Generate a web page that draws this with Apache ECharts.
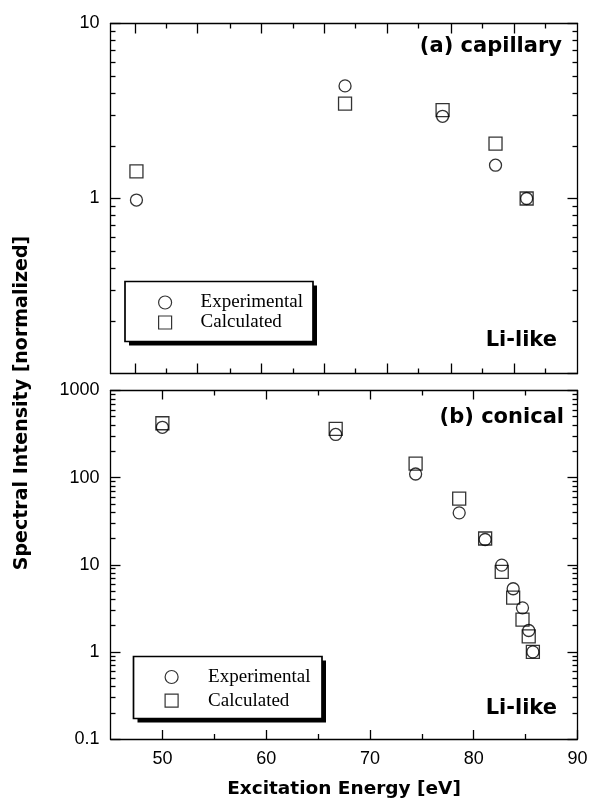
<!DOCTYPE html>
<html>
<head>
<meta charset="utf-8">
<script src="https://cdn.jsdelivr.net/npm/echarts@6/dist/echarts.min.js"></script>
<style>
  html, body { margin: 0; padding: 0; background: #fff; }
  #chart { width: 592px; height: 800px; }
</style>
</head>
<body>
<div id="chart"></div>
<script>
// (a) capillary: excitation energy [eV] and normalized spectral intensity
const capEnergy = [47.5, 67.6, 77.0, 82.1, 85.1];
const capExperimental = [0.98, 4.4, 2.95, 1.55, 1.0];
const capCalculated = [1.43, 3.48, 3.2, 2.06, 1.0];

// (b) conical
const conEnergy = [50.0, 66.7, 74.4, 78.6, 81.1, 82.7, 83.8, 84.7, 85.3, 85.7];
const conExperimental = [378, 313, 110, 39.4, 19.5, 9.9, 5.3, 3.2, 1.76, 1.0];
const conCalculated = [421, 363, 145, 57.5, 20, 8.3, 4.2, 2.35, 1.51, 1.0];

// axis tick values
const energyLabels = [50, 60, 70, 80, 90];
const energyMinor = [55, 65, 75, 85];
const capTickMajor = [47.4, 53.4, 59.5, 65.6, 71.7, 77.8, 83.9];
const capTickMinor = [50.4, 56.5, 62.6, 68.6, 74.7, 80.8, 86.9];
const minorSteps = [2, 3, 4, 5, 6, 7, 8, 9];

const seriesNames = ['Experimental', 'Calculated'];

const BLACK = '#000';
const LINE_W = 1.3;
const MAJOR_LEN = 10;
const MINOR_LEN = 5;

// minor tick positions of a decade axis, expressed in log10 units
function minorLogTicks(lo, hi) {
  const out = [];
  for (let d = lo; d < hi; d++) {
    for (const m of minorSteps) out.push(d + Math.log10(m));
  }
  return out;
}

function energyAxis(gridIndex, position, ticks, len, showLine, labels) {
  return {
    type: 'value', gridIndex, position, min: 45, max: 90,
    axisLine: { show: showLine, onZero: false, lineStyle: { color: BLACK, width: LINE_W } },
    axisTick: { show: true, inside: true, length: len, customValues: ticks,
                lineStyle: { color: BLACK, width: LINE_W } },
    axisLabel: labels ? {
      show: true, customValues: labels, margin: 11, color: BLACK,
      fontFamily: 'Liberation Sans', fontSize: 18
    } : { show: false },
    splitLine: { show: false }
  };
}

function logAxis(gridIndex, position, min, max, showLabels, showMinLabel) {
  return {
    type: 'log', logBase: 10, gridIndex, position, min, max,
    axisLine: { show: true, onZero: false, lineStyle: { color: BLACK, width: LINE_W } },
    axisTick: { show: true, inside: true, length: MAJOR_LEN, lineStyle: { color: BLACK, width: LINE_W } },
    axisLabel: showLabels ? {
      show: true, margin: 11, color: BLACK, fontFamily: 'Liberation Sans', fontSize: 18,
      showMinLabel, formatter: v => String(v)
    } : { show: false },
    splitLine: { show: false }
  };
}

function minorAxis(gridIndex, position, lo, hi) {
  return {
    type: 'value', gridIndex, position, min: lo, max: hi,
    axisLine: { show: false },
    axisTick: { show: true, inside: true, length: MINOR_LEN, customValues: minorLogTicks(lo, hi),
                lineStyle: { color: BLACK, width: LINE_W } },
    axisLabel: { show: false },
    splitLine: { show: false }
  };
}

const xAxes = [
  energyAxis(0, 'bottom', capTickMajor, MAJOR_LEN, true, null),
  energyAxis(0, 'bottom', capTickMinor, MINOR_LEN, false, null),
  energyAxis(0, 'top', capTickMajor, MAJOR_LEN, true, null),
  energyAxis(0, 'top', capTickMinor, MINOR_LEN, false, null),
  energyAxis(1, 'bottom', energyLabels, 9, true, energyLabels),
  energyAxis(1, 'bottom', energyMinor, MINOR_LEN, false, null),
  energyAxis(1, 'top', energyLabels, 9, true, null),
  energyAxis(1, 'top', energyMinor, MINOR_LEN, false, null)
];
Object.assign(xAxes[4], {
  name: 'Excitation Energy [eV]', nameLocation: 'middle', nameGap: 41,
  nameTextStyle: { fontFamily: 'DejaVu Sans', fontWeight: 'bold', fontSize: 18.5, color: BLACK }
});

const yAxes = [
  logAxis(0, 'left', 0.1, 10, true, false),
  logAxis(0, 'right', 0.1, 10, false, false),
  minorAxis(0, 'left', -1, 1),
  minorAxis(0, 'right', -1, 1),
  logAxis(1, 'left', 0.1, 1000, true, true),
  logAxis(1, 'right', 0.1, 1000, false, false),
  minorAxis(1, 'left', -1, 3),
  minorAxis(1, 'right', -1, 3)
];

function pairs(xs, ys) { return xs.map((x, i) => [x, ys[i]]); }

const markerStyle = { color: 'rgba(0,0,0,0)', borderColor: BLACK, borderWidth: 1.3 };

function scatter(name, symbol, size, axisIdx, data) {
  return {
    type: 'scatter', name, symbol, symbolSize: size,
    xAxisIndex: axisIdx, yAxisIndex: axisIdx,
    itemStyle: markerStyle,
    emphasis: { disabled: true },
    silent: true,
    data
  };
}

// legend entries; the framed box with its drop shadow is drawn underneath
function legendBox(left, top, padding, itemGap, textPad) {
  return {
    orient: 'vertical', left, top, padding, itemGap, z: 10,
    itemWidth: 13, itemHeight: 13,
    selectedMode: false,
    data: [{ name: seriesNames[0], icon: 'circle' }, { name: seriesNames[1], icon: 'rect' }],
    itemStyle: { color: 'rgba(0,0,0,0)', borderColor: BLACK, borderWidth: 1.2 },
    textStyle: { fontFamily: 'Liberation Serif', fontSize: 19, color: BLACK, padding: [0, 0, 0, textPad] },
    backgroundColor: 'transparent', borderWidth: 0
  };
}

function legendFrame(x, y, w, h) {
  return [
    { type: 'rect', z: 3, shape: { x: x + 4, y: y + 4, width: w, height: h },
      style: { fill: BLACK } },
    { type: 'rect', z: 4, shape: { x, y, width: w, height: h },
      style: { fill: '#fff', stroke: BLACK, lineWidth: 1.7 } }
  ];
}

const heavy = '"DejaVu Sans"';

const option = {
  animation: false,
  backgroundColor: '#fff',
  grid: [
    { left: 110.5, top: 23.5, width: 467, height: 350 },
    { left: 110.5, top: 390.5, width: 467, height: 349 }
  ],
  xAxis: xAxes,
  yAxis: yAxes,
  legend: [
    legendBox(125, 281.5, [11.5, 10, 10.5, 33], 1, 24),
    legendBox(133.5, 656.5, [11, 12, 8, 31], 4.7, 25)
  ],
  graphic: [
    ...legendFrame(125, 281.5, 188, 60),
    ...legendFrame(133.5, 656.5, 188.5, 62),
    { type: 'text', x: 22, y: 403, rotation: Math.PI / 2,
      style: { text: 'Spectral Intensity [normalized]', font: 'bold 19px ' + heavy,
               fill: BLACK, align: 'center', verticalAlign: 'middle' } },
    { type: 'text', x: 562, y: 47,
      style: { text: '(a) capillary', font: 'bold 21px ' + heavy, fill: BLACK,
               align: 'right', verticalAlign: 'middle' } },
    { type: 'text', x: 557, y: 340.5,
      style: { text: 'Li-like', font: 'bold 21px ' + heavy, fill: BLACK,
               align: 'right', verticalAlign: 'middle' } },
    { type: 'text', x: 564, y: 418,
      style: { text: '(b) conical', font: 'bold 21px ' + heavy, fill: BLACK,
               align: 'right', verticalAlign: 'middle' } },
    { type: 'text', x: 557, y: 709,
      style: { text: 'Li-like', font: 'bold 21px ' + heavy, fill: BLACK,
               align: 'right', verticalAlign: 'middle' } }
  ],
  series: [
    scatter(seriesNames[0], 'circle', 12, 0, pairs(capEnergy, capExperimental)),
    scatter(seriesNames[1], 'rect', 13, 0, pairs(capEnergy, capCalculated)),
    scatter(seriesNames[0], 'circle', 12, 4, pairs(conEnergy, conExperimental)),
    scatter(seriesNames[1], 'rect', 13, 4, pairs(conEnergy, conCalculated))
  ]
};

const chart = echarts.init(document.getElementById('chart'), null, { renderer: 'canvas' });
chart.setOption(option);
</script>
</body>
</html>
